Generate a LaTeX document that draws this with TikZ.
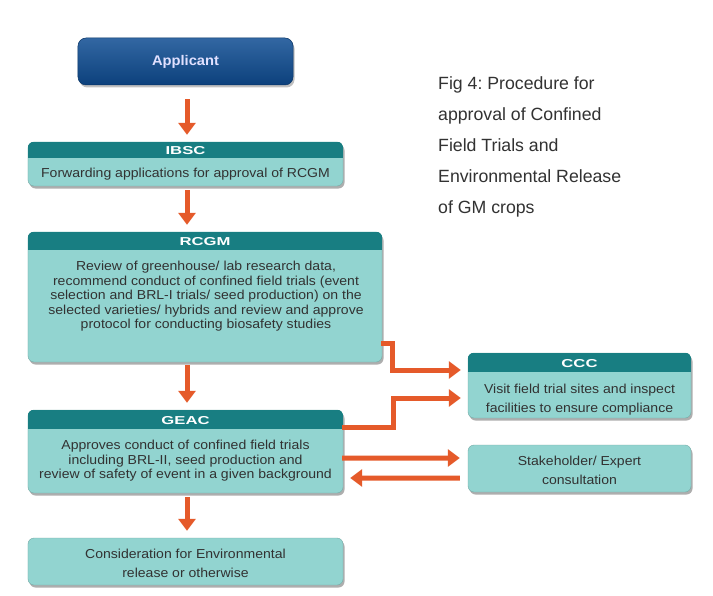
\documentclass[tikz,border=0pt]{standalone}
\usepackage{fontspec}
\setmainfont{Liberation Sans}
\newfontfamily\bodyf[FakeStretch=1.08]{Liberation Sans}
\newfontfamily\hdrf[FakeStretch=1.45]{Liberation Sans}
\newfontfamily\appf[FakeStretch=1.05]{Liberation Sans}
\usetikzlibrary{arrows.meta,shadows}
\definecolor{orng}{RGB}{229,90,42}
\definecolor{hdrc}{RGB}{24,126,130}
\definecolor{bodyc}{RGB}{146,212,208}
\definecolor{appc}{RGB}{14,76,146}
\definecolor{txtc}{RGB}{50,50,50}
\frenchspacing
\begin{document}
\begin{tikzpicture}[x=1bp,y=-1bp,
  box/.style={rounded corners=6bp, fill=bodyc, draw=bodyc!80!black, line width=0.4bp,
    drop shadow={shadow xshift=1.5bp,shadow yshift=-2.5bp,fill=black!70,opacity=0.45},
    inner sep=0pt},
  hdrtxt/.style={text=white, font=\hdrf\bfseries\fontsize{11.5bp}{12bp}\selectfont, inner sep=0pt},
  bodytxt/.style={text=txtc, align=center, inner sep=0pt, font=\bodyf\fontsize{13bp}{14.5bp}\selectfont},
  widetxt/.style={text=txtc, align=center, inner sep=0pt, font=\bodyf\fontsize{13bp}{19bp}\selectfont},
  varrow/.style={draw=orng, line width=5bp, -{Triangle[width=17bp,length=12bp]}},
  conn/.style={draw=orng, line width=5bp, line join=miter, -{Triangle[width=17bp,length=12bp]}}
]
\useasboundingbox[fill=white] (0,0) rectangle (713,596);

% Applicant
\node[rounded corners=8bp, top color=appc!85!white, bottom color=appc!85!black, draw=appc!70!black,
  line width=0.5bp, minimum width=215bp, minimum height=47bp, inner sep=0pt,
  drop shadow={shadow xshift=1.5bp,shadow yshift=-2.5bp,fill=black!70,opacity=0.35},
  text=white!88!blue, font=\appf\bfseries\fontsize{14bp}{16bp}\selectfont] (app) at (185.5,61.5) {Applicant};

% IBSC
\node[box, minimum width=315bp, minimum height=44bp] (ibsc) at (185.5,164) {};
\begin{scope}
  \clip[rounded corners=6bp] (ibsc.north west) rectangle (ibsc.south east);
  \fill[hdrc] (ibsc.north west) rectangle ([yshift=-16bp]ibsc.north east);
\end{scope}
\node[hdrtxt] (ibsch) at ([yshift=-9bp]ibsc.north) {IBSC};
\node[bodytxt] (ibscb) at (185.5,174) {Forwarding applications for approval of RCGM};

% RCGM
\node[box, minimum width=354bp, minimum height=130bp] (rcgm) at (205,297) {};
\begin{scope}
  \clip[rounded corners=6bp] (rcgm.north west) rectangle (rcgm.south east);
  \fill[hdrc] (rcgm.north west) rectangle ([yshift=-18bp]rcgm.north east);
\end{scope}
\node[hdrtxt] (rcgmh) at ([yshift=-10bp]rcgm.north) {RCGM};
\node[bodytxt] (rcgmb) at (206,296.5) {Review of greenhouse/ lab research data,\\
recommend conduct of confined field trials (event\\
selection and BRL-I trials/ seed production) on the\\
selected varieties/ hybrids and review and approve\\
protocol for conducting biosafety studies};

% GEAC
\node[box, minimum width=315bp, minimum height=83bp] (geac) at (185.5,451.5) {};
\begin{scope}
  \clip[rounded corners=6bp] (geac.north west) rectangle (geac.south east);
  \fill[hdrc] (geac.north west) rectangle ([yshift=-19bp]geac.north east);
\end{scope}
\node[hdrtxt] (geach) at ([yshift=-10.5bp]geac.north) {GEAC};
\node[bodytxt] (geacb) at (185.5,461) {Approves conduct of confined field trials\\
including BRL-II, seed production and\\
review of safety of event in a given background};

% Consideration
\node[box, minimum width=315bp, minimum height=47bp] (cons) at (185.5,561.5) {};
\node[widetxt] (consb) at (185.5,563.5) {Consideration for Environmental\\release or otherwise};

% CCC
\node[box, minimum width=223bp, minimum height=65bp] (ccc) at (579.5,385.5) {};
\begin{scope}
  \clip[rounded corners=6bp] (ccc.north west) rectangle (ccc.south east);
  \fill[hdrc] (ccc.north west) rectangle ([yshift=-19bp]ccc.north east);
\end{scope}
\node[hdrtxt] (ccch) at ([yshift=-10.5bp]ccc.north) {CCC};
\node[widetxt] (cccb) at (579.5,399.5) {Visit field trial sites and inspect\\facilities to ensure compliance};

% Stakeholder
\node[box, minimum width=223bp, minimum height=47bp] (stake) at (579.5,468.5) {};
\node[widetxt] (stakeb) at (579.5,470.5) {Stakeholder/ Expert\\consultation};

% Title
\node[anchor=north west, align=left, inner sep=0pt, text=txtc,
  font=\fontsize{17.7bp}{31.2bp}\selectfont] (fig) at (438,76) {Fig 4: Procedure for\\
approval of Confined\\
Field Trials and\\
Environmental Release\\
of GM crops};

% vertical arrows
\draw[varrow, shorten <=14bp, shorten >=7bp] ([xshift=1.5bp]app.south) -- ([xshift=1.5bp]app.south |- ibsc.north);
\draw[varrow, shorten <=4bp, shorten >=7bp] ([xshift=1.5bp]ibsc.south) -- ([xshift=1.5bp]ibsc.south |- rcgm.north);
\draw[varrow, shorten <=3bp, shorten >=7bp] ([xshift=1.5bp]ibsc.south |- rcgm.south) -- ([xshift=1.5bp]geac.north);
\draw[varrow, shorten <=4bp, shorten >=7bp] ([xshift=1.5bp]geac.south) -- ([xshift=1.5bp]cons.north);

% side connectors
\draw[conn, shorten >=7bp] ([yshift=19bp,xshift=-1bp]rcgm.south east) -- ++(11,0) |- ([yshift=15.5bp]ccc.west);
\draw[conn, shorten >=7bp] ([yshift=-18bp,xshift=-1bp]geac.north east) -- ++(51,0) |- ([yshift=-12.5bp]ccc.west);
\draw[conn, shorten >=8bp] ([yshift=-6.5bp,xshift=-1bp]geac.east) -- ([yshift=10.5bp]stake.west);
\draw[conn, shorten <=8bp, shorten >=7bp] ([yshift=-9.5bp]stake.west) -- ([yshift=-26.5bp]geac.east);
\end{tikzpicture}
\end{document}
